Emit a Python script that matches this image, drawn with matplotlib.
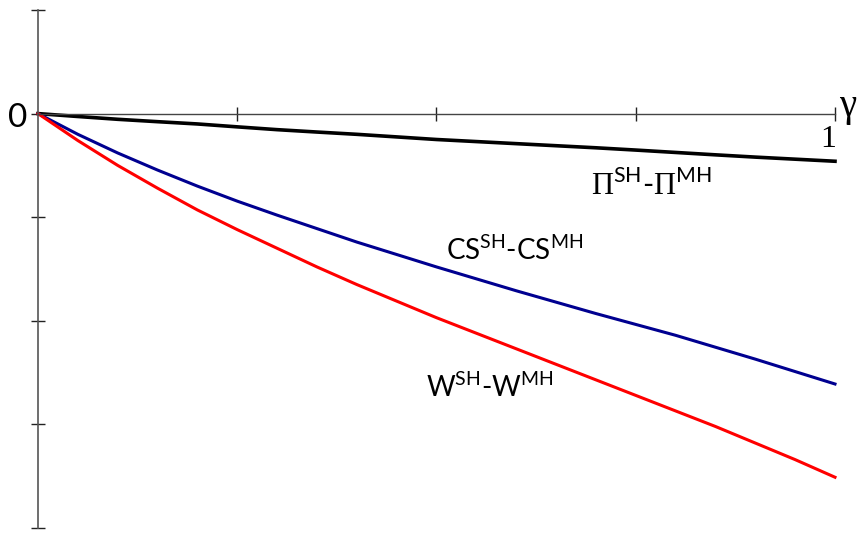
import matplotlib
matplotlib.use("Agg")
import matplotlib.pyplot as plt

plt.rcParams['mathtext.fontset'] = 'custom'
plt.rcParams['mathtext.rm'] = 'Lato'
plt.rcParams['mathtext.sf'] = 'Liberation Serif'

# values
gamma = [0, 0.05, 0.1, 0.15, 0.2, 0.25, 0.3, 0.35, 0.4, 0.45, 0.5,
         0.55, 0.6, 0.65, 0.7, 0.75, 0.8, 0.85, 0.9, 0.95, 1.0]
profit_diff = [0, -0.028, -0.055, -0.078, -0.10, -0.128, -0.155, -0.178, -0.20, -0.225, -0.25,
               -0.27, -0.29, -0.31, -0.33, -0.352, -0.375, -0.398, -0.42, -0.44, -0.46]
cs_diff = [0, -0.20, -0.38, -0.545, -0.70, -0.845, -0.98, -1.11, -1.24, -1.36, -1.48,
           -1.595, -1.71, -1.82, -1.93, -2.035, -2.14, -2.255, -2.37, -2.49, -2.61]
w_diff = [0, -0.26, -0.50, -0.72, -0.93, -1.12, -1.30, -1.48, -1.65, -1.81, -1.97,
          -2.12, -2.27, -2.42, -2.57, -2.72, -2.87, -3.02, -3.18, -3.34, -3.51]
xticks = [0.25, 0.5, 0.75, 1.0]
yticks = [1, 0, -1, -2, -3, -4]

fig = plt.figure(figsize=(8.62, 5.34), dpi=100)
ax = fig.add_axes([38/862, 6/534, 797/862, 518/534])

ax.plot(gamma, profit_diff, color='black', lw=2.6, clip_on=False)
ax.plot(gamma, cs_diff, color='#000090', lw=2.2, clip_on=False)
ax.plot(gamma, w_diff, color='#ff0000', lw=2.2, clip_on=False)

ax.set_xlim(0, 1)
ax.set_ylim(-4, 1)
for s in ['top', 'right']:
    ax.spines[s].set_visible(False)
ax.spines['bottom'].set_position(('data', 0))
ax.spines['left'].set_position(('data', 0))
ax.spines['left'].set_color('#555555')
ax.spines['bottom'].set_color('#444444')
ax.spines['left'].set_linewidth(1.2)
ax.spines['bottom'].set_linewidth(1.0)

ax.set_xticks(xticks)
ax.set_yticks(yticks)
ax.set_xticklabels([])
ax.set_yticklabels([])
ax.tick_params(axis='both', direction='inout', length=9.4, width=1.0, color='#222222')

ax.text(-0.013, -0.04, '0', ha='right', va='center', fontsize=24, family='Lato')
ax.text(0.991, -0.11, '1', ha='center', va='top', fontsize=23, family='Liberation Serif')
ax.text(1.016, 0.07, 'γ', ha='center', va='center', fontsize=28, family='Liberation Serif')

ax.text(0.77, -0.79, r'$\mathsf{\Pi}^{\mathrm{SH}}\mathrm{\text{-}}\mathsf{\Pi}^{\mathrm{MH}}$',
        ha='center', va='baseline', fontsize=22)
ax.text(0.598, -1.41, r'$\mathrm{CS^{SH}\text{-}CS^{MH}}$',
        ha='center', va='baseline', fontsize=20)
ax.text(0.567, -2.74, r'$\mathrm{W^{SH}\text{-}W^{MH}}$',
        ha='center', va='baseline', fontsize=20)

fig.savefig('out.png', dpi=100)
